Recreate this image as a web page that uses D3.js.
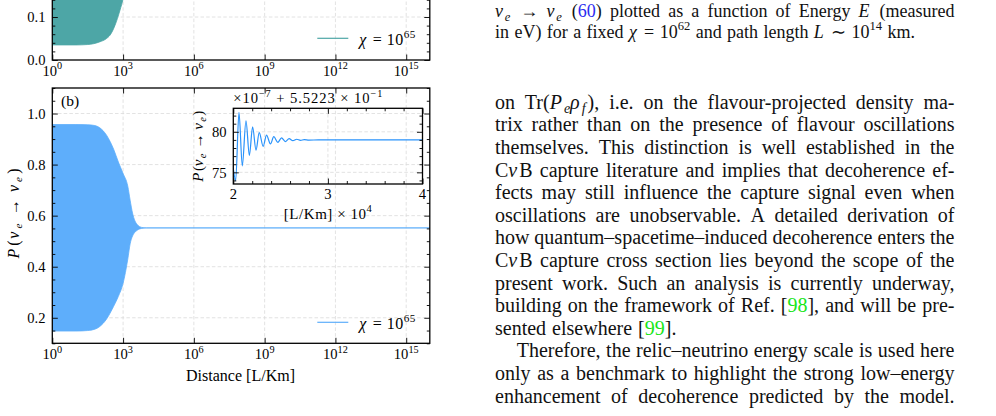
<!DOCTYPE html>
<html>
<head>
<meta charset="utf-8">
<script src="https://cdn.jsdelivr.net/npm/d3@7"></script>
<style>
  body { margin: 0; background: #fff; }
  svg { display: block; font-family: "Liberation Serif", "Times New Roman", serif; }
</style>
</head>
<body>
<div id="chart"></div>
<script>
const W = 996, H = 416;

// ---- chart data ----
const xMajorExp = [0, 3, 6, 9, 12, 15];
const yMajorA = [0.0, 0.1, 0.2, 0.3, 0.4, 0.5, 0.6];
const yMajorB = [0.2, 0.4, 0.6, 0.8, 1.0];
const insetXTicks = [2, 3, 4];
const insetYTicks = [75, 80];
const legendLabel = "*χ* = 10^{65}";

// panel (a): envelope of the oscillation band (log10 of distance)
const expA   = [0, 1.0, 1.5, 2.0, 2.3, 2.45, 2.66, 2.87, 3.0, 3.3, 3.6, 4.0, 16];
const lowerA = [0.035, 0.035, 0.036, 0.042, 0.05, 0.058, 0.081, 0.116, 0.142, 0.25, 0.4, 0.5, 0.5];
const upperA = [0.96, 0.96, 0.96, 0.95, 0.93, 0.91, 0.88, 0.83, 0.8, 0.7, 0.58, 0.5, 0.5];

// panel (b)
const expB   = [0, 1.0, 1.5, 1.8, 2.0, 2.3, 2.6, 2.8, 3.0, 3.2, 3.3, 3.4, 3.5, 3.6, 3.7, 3.85, 4.0, 16];
const upperB = [0.957, 0.957, 0.956, 0.953, 0.945, 0.915, 0.86, 0.81, 0.765, 0.715, 0.66, 0.61, 0.58, 0.565, 0.557, 0.553, 0.552, 0.552];
const lowerB = [0.148, 0.148, 0.15, 0.155, 0.165, 0.195, 0.245, 0.284, 0.335, 0.43, 0.49, 0.52, 0.535, 0.543, 0.548, 0.551, 0.552, 0.552];

// inset: distance in units of 1e4 km, P in units of 1e-7 (+0.55223)
const insetL = [2.0, 2.025, 2.06, 2.095, 2.134, 2.17, 2.204, 2.24, 2.274, 2.316, 2.351, 2.393, 2.428, 2.47, 2.51, 2.55, 2.59, 2.63, 2.67, 2.71, 2.75, 2.8, 2.9, 3.2, 4.0];
const insetP = [75.5, 73.97, 82.4, 75.8, 81.35, 77.1, 80.6, 77.75, 79.9, 78.2, 79.6, 78.5, 79.4, 78.7, 79.25, 78.8, 79.15, 78.9, 79.08, 78.95, 79.03, 78.98, 79.0, 79.0, 79.0];

// ---- page text ----
const captionLines = [
  "*ν*_{*e*} → *ν*_{*e*} («60») plotted as a function of Energy *E* (measured",
  "in eV) for a fixed *χ* = 10^{62} and path length *L* ∼ 10^{14} km."
];
const bodyLines = [
  "on Tr(*P*_{*e*}*ρ*_{*f*}), i.e. on the flavour-projected density ma-",
  "trix rather than on the presence of flavour oscillations",
  "themselves.  This distinction is well established in the",
  "C*ν*B capture literature and implies that decoherence ef-",
  "fects may still influence the capture signal even when",
  "oscillations are unobservable.  A detailed derivation of",
  "how quantum–spacetime–induced decoherence enters the",
  "C*ν*B capture cross section lies beyond the scope of the",
  "present work.  Such an analysis is currently underway,",
  "building on the framework of Ref. [‹98›], and will be pre-",
  "sented elsewhere [‹99›].",
  "Therefore, the relic–neutrino energy scale is used here",
  "only as a benchmark to highlight the strong low–energy",
  "enhancement of decoherence predicted by the model."
];
const paraEnds = [10];
const paraStarts = [11];

const colA = "#4da6a6";
const colB = "#5eaefb";
const colInset = "#2a93fb";

const svg = d3.select("#chart").append("svg").attr("width", W).attr("height", H);
const defs = svg.append("defs");

// tiny markup: *italic*, _{sub}, ^{sup}, «blue», ‹green›
function parseRich(str) {
  const segs = [];
  let italic = false, color = null, shift = 0, buf = "";
  const flush = () => { if (buf) segs.push({ t: buf, it: italic, c: color, s: shift }); buf = ""; };
  for (let i = 0; i < str.length; i++) {
    const ch = str[i];
    if (ch === "*") { flush(); italic = !italic; }
    else if ((ch === "_" || ch === "^") && str[i + 1] === "{") { flush(); shift = ch === "_" ? -1 : 1; i++; }
    else if (ch === "}" && shift !== 0) { flush(); shift = 0; }
    else if (ch === "«") { flush(); color = "#2b2bf0"; }
    else if (ch === "‹") { flush(); color = "#19e619"; }
    else if (ch === "»" || ch === "›") { flush(); color = null; }
    else buf += ch;
  }
  flush();
  return segs;
}

// writes tspans, returns the extra dx it added (italic corrections)
function richText(sel, str, size) {
  let cur = 0, extra = 0, prevItalic = false;
  parseRich(str).forEach(sg => {
    const target = sg.s === -1 ? 0.22 * size : sg.s === 1 ? -0.45 * size : 0;
    const dx = prevItalic && !(sg.it && sg.s === 0) ? 0.1 * size : 0;
    extra += dx;
    sel.append("tspan")
      .attr("dx", dx || null)
      .attr("dy", target - cur)
      .attr("font-size", sg.s ? size * 0.7 : null)
      .attr("font-style", sg.it ? "italic" : null)
      .attr("fill", sg.c)
      .text(sg.t);
    cur = target;
    prevItalic = sg.it;
  });
  if (prevItalic) extra += 0.1 * size;
  return extra;
}

function rich(sel, str, size, len) {
  richText(sel, str, size);
  if (len) sel.attr("textLength", len).attr("lengthAdjust", "spacing");
  return sel;
}

// ---- scales ----
const xMain = d3.scaleLog().domain([1, 1e16]).range([52.3, 429.8]);
const yA = d3.scaleLinear().domain([0, 0.6]).range([60, -198]);
const yB = d3.scaleLinear().domain([0.1, 1.1]).range([343.3, 88]);
const xIn = d3.scaleLinear().domain([2, 4]).range([233.3, 422.5]);
const yIn = d3.scaleLinear().domain([73.56, 82.9]).range([184, 108.3]);

function panel(x, y, xGrid, yGrid, id) {
  const [xl, xr] = x.range(), [yb, yt] = y.range();
  defs.append("clipPath").attr("id", id).append("rect")
    .attr("x", xl).attr("y", yt).attr("width", xr - xl).attr("height", yb - yt);
  const g = svg.append("g");
  const grid = g.append("g")
    .attr("stroke", "#dadada").attr("stroke-width", 0.8).attr("stroke-dasharray", "3.5,2.2");
  grid.selectAll(".gx").data(xGrid).join("line")
    .attr("x1", d => x(d)).attr("x2", d => x(d)).attr("y1", yt).attr("y2", yb);
  grid.selectAll(".gy").data(yGrid).join("line")
    .attr("x1", xl).attr("x2", xr).attr("y1", d => y(d)).attr("y2", d => y(d));
  const plot = g.append("g").attr("clip-path", `url(#${id})`);
  return { g, plot };
}

function frame(g, x, y, xMaj, xMin, yMaj, yMin) {
  const [xl, xr] = x.range(), [yb, yt] = y.range();
  const tk = (axis, t, vals, size) => g.append("g").attr("transform", t)
    .call(axis.tickValues(vals).tickSize(-size).tickFormat(""))
    .call(s => s.select(".domain").remove())
    .call(s => s.selectAll("line").attr("stroke", "#000").attr("stroke-width", 0.9));
  tk(d3.axisBottom(x), `translate(0,${yb})`, xMaj, 5.5);
  tk(d3.axisTop(x), `translate(0,${yt})`, xMaj, 5.5);
  tk(d3.axisLeft(y), `translate(${xl},0)`, yMaj, 5.5);
  tk(d3.axisRight(y), `translate(${xr},0)`, yMaj, 5.5);
  if (xMin.length) {
    tk(d3.axisBottom(x), `translate(0,${yb})`, xMin, 3);
    tk(d3.axisTop(x), `translate(0,${yt})`, xMin, 3);
  }
  tk(d3.axisLeft(y), `translate(${xl},0)`, yMin, 3);
  tk(d3.axisRight(y), `translate(${xr},0)`, yMin, 3);
  g.append("rect").attr("x", xl).attr("y", yt).attr("width", xr - xl).attr("height", yb - yt)
    .attr("fill", "none").attr("stroke", "#000").attr("stroke-width", 1.3);
}

function minors(lo, hi, step, majors) {
  return d3.range(Math.round(lo / step), Math.round(hi / step) + 1)
    .map(k => +(k * step).toFixed(4))
    .filter(v => !majors.some(m => Math.abs(m - v) < 1e-6));
}

function xTickLabels(g, yBase) {
  g.selectAll(null).data(xMajorExp).join("text")
    .attr("x", d => xMain(10 ** d)).attr("y", yBase)
    .attr("text-anchor", "middle").attr("font-size", 14.6)
    .each(function (d) { richText(d3.select(this), `10^{${d}}`, 14.6); });
}

function yTickLabels(g, y, vals, xr, fmt) {
  g.selectAll(null).data(vals).join("text")
    .attr("x", xr).attr("y", d => y(d)).attr("dy", "0.36em")
    .attr("text-anchor", "end").attr("font-size", 14.6)
    .text(fmt);
}

function legend(g, y0, col) {
  g.append("line").attr("x1", 317.3).attr("x2", 348.3).attr("y1", y0).attr("y2", y0)
    .attr("stroke", col).attr("stroke-width", 1.2);
  rich(g.append("text").attr("x", 359.3).attr("y", y0 + 6.5).attr("font-size", 16), legendLabel, 16, 56);
}

const xGridVals = xMajorExp.slice(1).map(e => 10 ** e);

// ---- panel (a) ----
const pa = panel(xMain, yA, xGridVals, yMajorA.slice(1), "clipA");
const areaA = d3.area()
  .x((d, i) => xMain(10 ** expA[i]))
  .y0((d, i) => yA(lowerA[i]))
  .y1((d, i) => yA(upperA[i]))
  .curve(d3.curveMonotoneX);
pa.plot.append("path").datum(expA).attr("d", areaA)
  .attr("fill", colA).attr("stroke", colA).attr("stroke-width", 0.8);
frame(pa.g, xMain, yA, xMajorExp.map(e => 10 ** e), [], yMajorA, minors(0, 0.6, 0.02, yMajorA));
xTickLabels(pa.g, 76);
yTickLabels(pa.g, yA, [0.0, 0.1], 45.5, d3.format(".1f"));
legend(pa.g, 38.3, colA);

// ---- panel (b) ----
const pb = panel(xMain, yB, xGridVals, yMajorB, "clipB");
const areaB = d3.area()
  .x((d, i) => xMain(10 ** expB[i]))
  .y0((d, i) => yB(lowerB[i]))
  .y1((d, i) => yB(upperB[i]))
  .curve(d3.curveMonotoneX);
pb.plot.append("path").datum(expB).attr("d", areaB)
  .attr("fill", colB).attr("stroke", colB).attr("stroke-width", 0.8);
frame(pb.g, xMain, yB, xMajorExp.map(e => 10 ** e), [], yMajorB, minors(0.1, 1.1, 0.05, yMajorB));
xTickLabels(pb.g, 359.3);
yTickLabels(pb.g, yB, yMajorB, 45.5, d3.format(".1f"));
legend(pb.g, 322.3, colB);

pb.g.append("text").attr("x", 61).attr("y", 106).attr("font-size", 15.5).text("(b)");

rich(pb.g.append("text").attr("x", 240.5).attr("y", 381).attr("text-anchor", "middle").attr("font-size", 16),
  "Distance [L/Km]", 16, 109);
rich(pb.g.append("text").attr("transform", "translate(18.5,213.5) rotate(-90)")
  .attr("text-anchor", "middle").attr("font-size", 16),
  "*P*(*ν*_{*e*} → *ν*_{*e*})", 16, 90);

// ---- inset ----
const pi = panel(xIn, yIn, [3], insetYTicks, "clipI");
const lineIn = d3.line()
  .x((d, i) => xIn(insetL[i]))
  .y((d, i) => yIn(insetP[i]))
  .curve(d3.curveMonotoneX);
pi.plot.append("path").datum(insetL).attr("d", lineIn)
  .attr("fill", "none").attr("stroke", colInset).attr("stroke-width", 1.2);
frame(pi.g, xIn, yIn, insetXTicks, minors(2, 4, 0.2, insetXTicks), insetYTicks, minors(74, 82, 1, insetYTicks));
pi.g.selectAll(null).data(insetXTicks).join("text")
  .attr("x", d => xIn(d)).attr("y", 199).attr("text-anchor", "middle").attr("font-size", 14.6)
  .text(d => d);
yTickLabels(pi.g, yIn, insetYTicks, 226.5, d => d);
rich(pi.g.append("text").attr("x", 233.3).attr("y", 103.3).attr("font-size", 14.6),
  "×10^{−7} + 5.5223 × 10^{−1}", 14.6, 149);
rich(pi.g.append("text").attr("x", 327.8).attr("y", 219).attr("text-anchor", "middle").attr("font-size", 15),
  "[L/Km] × 10^{4}", 15, 88);
rich(pi.g.append("text").attr("transform", "translate(202.5,146.2) rotate(-90)")
  .attr("text-anchor", "middle").attr("font-size", 15),
  "*P*(*ν*_{*e*} → *ν*_{*e*})", 15, 71);

// ---- right column text, justified word by word ----
function setLine(str, x0, x1, base, size, justify) {
  const g = svg.append("g").attr("font-size", size).attr("fill", "#111");
  const words = str.split(/ +/).filter(w => w);
  const widths = [];
  const nodes = words.map(w => {
    const t = g.append("text").attr("y", base);
    const extra = richText(t, w, size);
    widths.push(t.node().getComputedTextLength() + extra);
    return t;
  });
  const gap = justify && words.length > 1
    ? (x1 - x0 - d3.sum(widths)) / (words.length - 1)
    : 0.3 * size;
  let cx = x0;
  nodes.forEach((t, i) => { t.attr("x", cx); cx += widths[i] + gap; });
}

const colL = 495, colR = 954.5;
captionLines.forEach((s, i) => setLine(s, colL, colR, 17.3 + i * 21, 18, i < captionLines.length - 1));
bodyLines.forEach((s, i) => {
  const x0 = paraStarts.includes(i) ? colL + 21.7 : colL;
  setLine(s, x0, colR, 108.8 + i * 22.6, 20, !paraEnds.includes(i));
});
</script>
</body>
</html>
